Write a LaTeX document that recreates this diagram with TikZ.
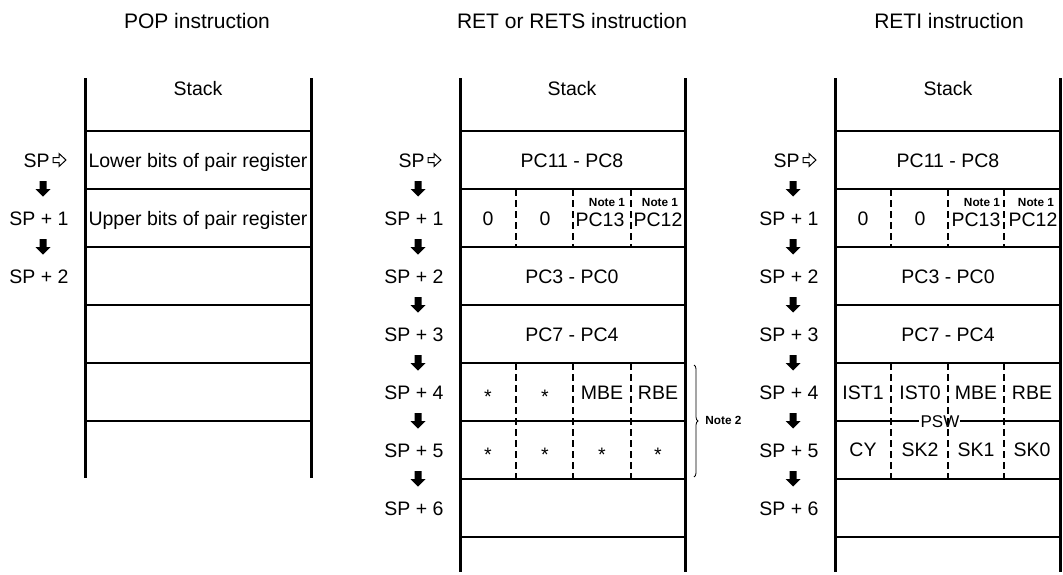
\documentclass[tikz,border=0pt]{standalone}
\usepackage{fontspec}
\setmainfont{Liberation Sans}
\usetikzlibrary{decorations.pathreplacing}

\tikzset{
  txt/.style={font=\fontsize{9.75}{11}\selectfont, inner sep=0pt, text height=7pt, text depth=0pt},
  ttl/.style={font=\fontsize{10.5}{12}\selectfont, inner sep=0pt, text height=7.5pt, text depth=0pt},
  notetxt/.style={font=\bfseries\fontsize{5.9}{7}\selectfont, inner sep=0pt, text height=4.3pt, text depth=0pt},
  pswtxt/.style={font=\fontsize{8.5}{10}\selectfont, inner sep=0pt, text height=6.1pt, text depth=0pt},
  star/.style={txt, yshift=-2.2pt},
  wall/.style={line width=1.5pt},
  rowline/.style={line width=0.9pt},
  divider/.style={line width=0.9pt, dash pattern=on 3.5pt off 2pt},
  dnarrow/.pic={\fill (-3.5,-8) -- (3.5,-8) -- (3.5,0) -- (7.5,0) -- (0,7.5) -- (-7.5,0) -- (-3.5,0) -- cycle;},
  sparrow/.pic={\draw[line width=0.5pt] (1,-2.5) -- (7,-2.5) -- (7,-6.5) -- (14,0) -- (7,6.5) -- (7,2.5) -- (1,2.5) -- cycle;}
}

\begin{document}
\begin{tikzpicture}[x=0.5pt, y=-0.5pt]
  \useasboundingbox (0,0) rectangle (1063,574);

  % POP instruction
  \node[ttl] (pop title) at (197,21) {POP instruction};
  \node[txt] (pop stack) at (198,88) {Stack};
  \draw[wall] (85,78) -- (85,478) (311,78) -- (311,478);
  \foreach \y in {131,189,...,421} \draw[rowline] (85,\y) -- (311,\y);
  \node[txt] (pop lower) at (198,160) {Lower bits of pair register};
  \node[txt] (pop upper) at (198,218) {Upper bits of pair register};
  \node[txt, anchor=east] (pop sp0) at (50,160) {SP};
  \pic at (52,160) {sparrow};
  \foreach \k in {1,2} \node[txt] (pop sp\k) at (39,{160+58*\k}) {SP + \k};
  \foreach \k in {0,1} \pic at (43,{189+58*\k}) {dnarrow};

  % RET or RETS instruction
  \node[ttl] (ret title) at (572,21) {RET or RETS instruction};
  \node[txt] (ret stack) at (572,88) {Stack};
  \draw[wall] (460,78) -- (460,572) (685,78) -- (685,572);
  \foreach \y in {131,189,...,537} \draw[rowline] (460,\y) -- (685,\y);
  \foreach \x in {516,573,631} \draw[divider] (\x,189) -- (\x,247) (\x,363) -- (\x,479);
  \node[txt] (ret pc11) at (572,160) {PC11 - PC8};
  \node[txt] (ret zero1) at (488,218) {0};
  \node[txt] (ret zero2) at (545,218) {0};
  \node[txt] (ret pc13) at (600,219) {PC13};
  \node[txt] (ret pc12) at (658,219) {PC12};
  \node[notetxt] (ret note13) at (607,202) {Note 1};
  \node[notetxt] (ret note12) at (660,202) {Note 1};
  \node[txt] (ret pc3) at (572,276) {PC3 - PC0};
  \node[txt] (ret pc7) at (572,334) {PC7 - PC4};
  \foreach \x/\n in {488/a,545/b} \node[star] (ret s4\n) at (\x,392) {*};
  \node[txt] (ret mbe) at (602,392) {MBE};
  \node[txt] (ret rbe) at (658,392) {RBE};
  \foreach \x/\n in {488/a,545/b,602/c,658/d} \node[star] (ret s5\n) at (\x,450) {*};
  \draw[decorate, decoration={brace, amplitude=2pt}, line width=0.4pt] (694,365) -- (694,477);
  \node[notetxt, anchor=west] (ret note2) at (705,420) {Note 2};
  \node[txt, anchor=east] (ret sp0) at (425,160) {SP};
  \pic at (427,160) {sparrow};
  \foreach \k in {1,...,6} \node[txt] (ret sp\k) at (414,{160+58*\k}) {SP + \k};
  \foreach \k in {0,...,5} \pic at (418,{189+58*\k}) {dnarrow};

  % RETI instruction
  \node[ttl] (reti title) at (949,21) {RETI instruction};
  \node[txt] (reti stack) at (948,88) {Stack};
  \draw[wall] (835,78) -- (835,572) (1060,78) -- (1060,572);
  \foreach \y in {131,189,247,305,363,479,537} \draw[rowline] (835,\y) -- (1060,\y);
  \draw[rowline] (835,421) -- (919,421) (960,421) -- (1060,421);
  \foreach \x in {891,948,1004} \draw[divider] (\x,189) -- (\x,247) (\x,363) -- (\x,479);
  \node[txt] (reti pc11) at (948,160) {PC11 - PC8};
  \node[txt] (reti zero1) at (863,218) {0};
  \node[txt] (reti zero2) at (920,218) {0};
  \node[txt] (reti pc13) at (976,219) {PC13};
  \node[txt] (reti pc12) at (1033,219) {PC12};
  \node[notetxt] (reti note13) at (982,202) {Note 1};
  \node[notetxt] (reti note12) at (1036,202) {Note 1};
  \node[txt] (reti pc3) at (948,276) {PC3 - PC0};
  \node[txt] (reti pc7) at (948,334) {PC7 - PC4};
  \node[txt] (reti ist1) at (863,392) {IST1};
  \node[txt] (reti ist0) at (920,392) {IST0};
  \node[txt] (reti mbe) at (976,392) {MBE};
  \node[txt] (reti rbe) at (1032,392) {RBE};
  \node[pswtxt] (reti psw) at (940,421) {PSW};
  \node[txt] (reti cy) at (863,449) {CY};
  \node[txt] (reti sk2) at (920,449) {SK2};
  \node[txt] (reti sk1) at (976,449) {SK1};
  \node[txt] (reti sk0) at (1032,449) {SK0};
  \node[txt, anchor=east] (reti sp0) at (800,160) {SP};
  \pic at (802,160) {sparrow};
  \foreach \k in {1,...,6} \node[txt] (reti sp\k) at (789,{160+58*\k}) {SP + \k};
  \foreach \k in {0,...,5} \pic at (793,{189+58*\k}) {dnarrow};
\end{tikzpicture}
\end{document}
